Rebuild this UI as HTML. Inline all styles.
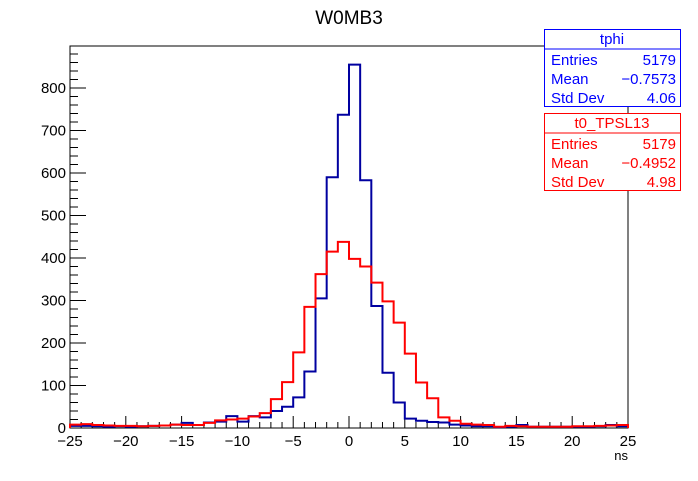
<!DOCTYPE html><html><head><meta charset="utf-8"><style>body{margin:0;background:#fff}svg text{font-family:"Liberation Sans",sans-serif}</style></head><body>
<svg id="c" width="698" height="476" xmlns="http://www.w3.org/2000/svg"></svg>
<script>
const blueVals=[5,5,4,3,4,3,4,5,6,8,12,7,13,15,28,15,28,25,40,50,72,133,305,590,737,855,583,287,130,60,22,17,14,13,8,6,4,4,2,3,7,3,3,3,3,3,3,4,7,4];
const redVals=[8,9,7,6,5,5,4,5,6,8,7,7,12,18,20,22,27,35,68,108,178,285,362,415,438,398,380,342,298,248,175,107,70,25,17,10,8,7,3,5,4,3,3,3,3,4,4,5,6,7];
const xTicks=[-25,-20,-15,-10,-5,0,5,10,15,20,25];
const yTicks=[0,100,200,300,400,500,600,700,800];
const NS="http://www.w3.org/2000/svg",svg=document.getElementById('c');
const X0=70,X1=628,Y0=428,Y1=46;
const xs=v=>X0+(v+25)/50*(X1-X0), ys=v=>Y0-v*0.425;
function el(t,a,p){const e=document.createElementNS(NS,t);for(const k in a)e.setAttribute(k,a[k]);(p||svg).appendChild(e);return e;}
const frame=el('rect',{x:X0,y:Y1,width:X1-X0,height:Y0-Y1,fill:'none',stroke:'#000'});

for(let v=-25;v<=25;v++){const big=v%5==0;el('line',{x1:xs(v),x2:xs(v),y1:Y0,y2:Y0-(big?12:6),stroke:'#000'});}
xTicks.forEach(v=>{const t=el('text',{x:xs(v),y:446,'font-size':15,'text-anchor':'middle'});t.textContent=(v<0?'\u2212'+(-v):v);
});
for(let v=0;v<=880;v+=20){const big=v%100==0;el('line',{x1:X0,x2:X0+(big?16:8),y1:ys(v),y2:ys(v),stroke:'#000'});}
yTicks.forEach(v=>{const t=el('text',{x:66,y:ys(v)+5,'font-size':15,'text-anchor':'end'});t.textContent=v;
});
function hist(vals,col,name){let d='M'+xs(-25)+','+Y0;vals.forEach((v,i)=>{d+=' L'+xs(-25+i)+','+ys(v)+' L'+xs(-24+i)+','+ys(v);});d+=' L'+xs(25)+','+Y0;
const p=el('path',{d:d,fill:'none',stroke:col,'stroke-width':2});}
hist(blueVals,'#0000a0','tphi-histogram');hist(redVals,'#ff0000','t0-tpsl13-histogram');
const tt=el('text',{x:349,y:24,'font-size':19,'text-anchor':'middle'});tt.textContent='W0MB3';
const xl=el('text',{x:628,y:460,'font-size':13,'text-anchor':'end'});xl.textContent='ns';
function box(y,col,title,rows,name){const g=el('g',{});
el('rect',{x:544.5,y:y+.5,width:136,height:77,fill:'#fff',stroke:col},g);el('line',{x1:544.5,x2:680.5,y1:y+20,y2:y+20,stroke:col},g);
const t=el('text',{x:612,y:y+15,'font-size':15,fill:col,'text-anchor':'middle'},g);t.textContent=title;
rows.forEach((r,i)=>{const a=el('text',{x:551,y:y+36+i*19,'font-size':15,fill:col},g);a.textContent=r[0];const b=el('text',{x:676,y:y+36+i*19,'font-size':15,fill:col,'text-anchor':'end'},g);b.textContent=r[1];});}
box(29,'#0000ff','tphi',[['Entries','5179'],['Mean','\u22120.7573'],['Std Dev','4.06']],'stats-box-tphi');
box(113,'#ff0000','t0_TPSL13',[['Entries','5179'],['Mean','\u22120.4952'],['Std Dev','4.98']],'stats-box-t0-tpsl13');
</script></body></html>
